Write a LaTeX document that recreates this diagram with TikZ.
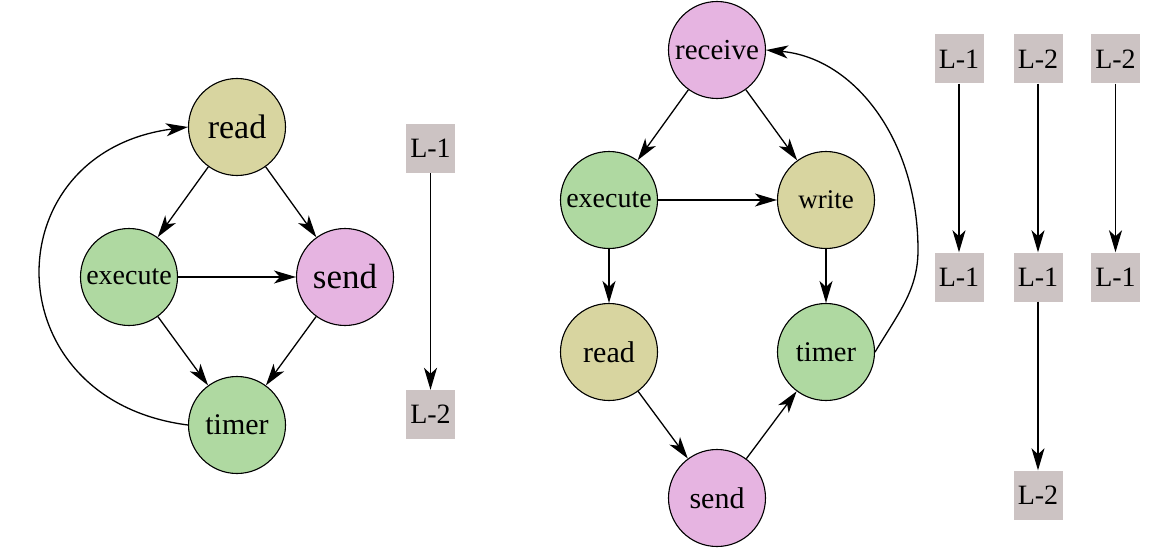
\documentclass[tikz,border=0pt]{standalone}
\usepackage{fontspec}
\setmainfont{Liberation Serif}
\usetikzlibrary{arrows.meta}
\definecolor{cKhaki}{HTML}{D8D5A0}
\definecolor{cGreen}{HTML}{AFD9A1}
\definecolor{cPink}{HTML}{E6B4E1}
\definecolor{cBox}{HTML}{CCC3C3}
\begin{document}
\begin{tikzpicture}[x=1pt,y=-1pt,
  st/.style={circle, draw=black, line width=1.1pt, minimum size=97pt, inner sep=0pt},
  kh/.style={st, fill=cKhaki},
  gr/.style={st, fill=cGreen},
  pk/.style={st, fill=cPink},
  lbox/.style={fill=cBox, minimum size=49pt, inner sep=0pt, font=\fontsize{28}{30}\selectfont},
  edge/.style={line width=1.3pt, -{Stealth[length=22pt,width=13pt,inset=6pt]}}]
\useasboundingbox (0,0) rectangle (1170,551);
% left graph
\node[kh, font=\fontsize{34}{36}\selectfont] (lread) at (237,127) {read};
\node[gr, font=\fontsize{28}{30}\selectfont] (lexec) at (129,277) {execute};
\node[pk, font=\fontsize{35}{37}\selectfont] (lsend) at (345,277) {send};
\node[gr, font=\fontsize{30}{32}\selectfont] (ltimer) at (237,425) {timer};
\draw[edge] (lread) -- (lexec);
\draw[edge] (lread) -- (lsend);
\draw[edge] (lexec) -- (lsend);
\draw[edge] (lexec) -- (ltimer);
\draw[edge] (lsend) -- (ltimer);
\draw[edge] (ltimer.west) .. controls (-8,400) and (-8,152) .. (lread.west);
% left boxes
\node[lbox] (b1) at (430.5,148.5) {L-1};
\node[lbox] (b2) at (430.5,414.5) {L-2};
\draw[edge] (b1) -- (b2);
% right graph
\node[pk, font=\fontsize{29}{31}\selectfont] (rrec) at (717,50) {receive};
\node[gr, font=\fontsize{28}{30}\selectfont] (rexec) at (609,200) {execute};
\node[kh, font=\fontsize{27}{29}\selectfont] (rwrite) at (826,200) {write};
\node[kh, font=\fontsize{30}{32}\selectfont] (rread) at (609,352) {read};
\node[gr, font=\fontsize{28.5}{30}\selectfont] (rtimer) at (826,352) {timer};
\node[pk, font=\fontsize{30}{32}\selectfont] (rsend) at (717,498) {send};
\draw[edge] (rrec) -- (rexec);
\draw[edge] (rrec) -- (rwrite);
\draw[edge] (rexec) -- (rwrite);
\draw[edge] (rexec) -- (rread);
\draw[edge] (rwrite) -- (rtimer);
\draw[edge] (rread) -- (rsend);
\draw[edge] (rsend) -- (rtimer);
\draw[edge] (rtimer.east) .. controls (899,312) and (918,290) .. (918,250)
  .. controls (918,141) and (855,58) .. (rrec.east);
% right boxes
\node[lbox] (c1) at (959,59) {L-1};
\node[lbox] (c2) at (959,277) {L-1};
\draw[edge] (c1) -- (c2);
\node[lbox] (d1) at (1038,59) {L-2};
\node[lbox] (d2) at (1038,277) {L-1};
\node[lbox] (d3) at (1038,495) {L-2};
\draw[edge] (d1) -- (d2);
\draw[edge] (d2) -- (d3);
\node[lbox] (e1) at (1115.5,59) {L-2};
\node[lbox] (e2) at (1115.5,277) {L-1};
\draw[edge] (e1) -- (e2);
\end{tikzpicture}
\end{document}
